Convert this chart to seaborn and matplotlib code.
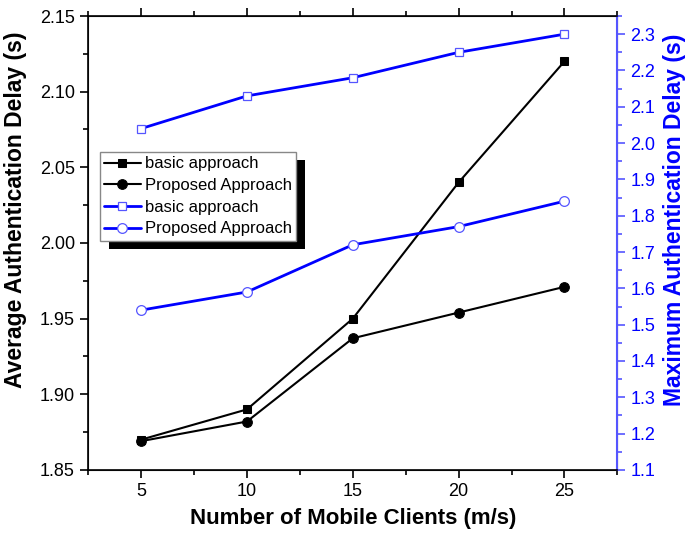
import matplotlib
matplotlib.use("Agg")
import matplotlib.pyplot as plt
import seaborn as sns
from matplotlib.patches import Rectangle
from matplotlib.ticker import MultipleLocator, FormatStrFormatter

clients = [5, 10, 15, 20, 25]
avg_basic = [1.87, 1.89, 1.95, 2.04, 2.12]
avg_proposed = [1.869, 1.882, 1.937, 1.954, 1.971]
max_basic = [2.04, 2.13, 2.18, 2.25, 2.30]
max_proposed = [1.54, 1.59, 1.72, 1.77, 1.84]

sns.set_style("ticks")
plt.rcParams["font.family"] = ["Liberation Sans", "DejaVu Sans"]
plt.rcParams["text.color"] = "black"
plt.rcParams["axes.labelcolor"] = "black"
plt.rcParams["xtick.color"] = "black"
plt.rcParams["ytick.color"] = "black"

blue = "#0000ff"
light_blue = "#5555ff"

fig = plt.figure(figsize=(6.89, 5.34), dpi=100)
ax = fig.add_axes([0.128, 0.12, 0.768, 0.85])
ax2 = ax.twinx()

sns.lineplot(x=clients, y=avg_basic, ax=ax, color="black", lw=1.5,
             marker="s", markersize=6, markeredgecolor="black",
             label="basic approach", legend=False)
sns.lineplot(x=clients, y=avg_proposed, ax=ax, color="black", lw=1.5,
             marker="o", markersize=7, markeredgecolor="black",
             label="Proposed Approach", legend=False)
sns.lineplot(x=clients, y=max_basic, ax=ax2, color=blue, lw=2.0,
             marker="s", markersize=6, markerfacecolor="white",
             markeredgecolor=light_blue, markeredgewidth=0.9,
             label="basic approach", legend=False)
sns.lineplot(x=clients, y=max_proposed, ax=ax2, color=blue, lw=2.0,
             marker="o", markersize=7, markerfacecolor="white",
             markeredgecolor=light_blue, markeredgewidth=0.9,
             label="Proposed Approach", legend=False)

ax.set_xlim(2.5, 27.5)
ax.set_ylim(1.85, 2.15)
ax2.set_ylim(1.1, 2.35)

ax.xaxis.set_major_locator(MultipleLocator(5))
ax.xaxis.set_minor_locator(MultipleLocator(2.5))
ax.yaxis.set_major_locator(MultipleLocator(0.05))
ax.yaxis.set_minor_locator(MultipleLocator(0.025))
ax.yaxis.set_major_formatter(FormatStrFormatter("%.2f"))
ax2.yaxis.set_major_locator(MultipleLocator(0.1))
ax2.yaxis.set_minor_locator(MultipleLocator(0.05))
ax2.yaxis.set_major_formatter(FormatStrFormatter("%.1f"))

for sp in ["left", "bottom", "top"]:
    ax2.spines[sp].set_color("black")
    ax2.spines[sp].set_linewidth(1.2)
ax2.spines["right"].set_color(light_blue)
ax2.spines["right"].set_linewidth(1.5)

ax.tick_params(axis="both", which="major", direction="out", length=6, width=1.2,
               labelsize=13, color="black", labelcolor="black")
ax.tick_params(axis="both", which="minor", direction="out", length=3.5, width=1.2)
ax.tick_params(axis="x", which="both", top=True)
ax2.tick_params(axis="y", which="major", direction="out", length=6, width=1.2,
                labelsize=13, color=light_blue, labelcolor=blue)
ax2.tick_params(axis="y", which="minor", direction="out", length=3.5, width=1.2,
                color=light_blue)

ax.set_xlabel("Number of Mobile Clients (m/s)", fontsize=16, fontweight="bold",
              color="black", labelpad=6)
ax.set_ylabel("Average Authentication Delay (s)", fontsize=16.5, fontweight="bold",
              color="black")
ax2.set_ylabel("Maximum Authentication Delay (s)", fontsize=16.5, fontweight="bold",
               color=blue)
ax.yaxis.set_label_coords(-0.115, 0.573)
ax2.yaxis.set_label_coords(1.086, 0.55)

handles = ax.get_lines()[:2] + ax2.get_lines()[:2]
labels = ["basic approach", "Proposed Approach", "basic approach", "Proposed Approach"]
leg = ax2.legend(handles, labels, loc="upper left", bbox_to_anchor=(0.022, 0.70),
                 fontsize=12, frameon=True, fancybox=False, framealpha=1,
                 edgecolor="#888888", borderpad=0.25, labelspacing=0.4,
                 handlelength=2.2, handletextpad=0.25, borderaxespad=0)
leg.get_frame().set_linewidth(1)
leg.set_zorder(10)

fig.canvas.draw()
bb = leg.get_window_extent()
shadow = Rectangle((bb.x0 + 9, bb.y0 - 8), bb.width, bb.height, transform=None,
                   facecolor="black", edgecolor="none", zorder=9, clip_on=False)
ax2.add_artist(shadow)

fig.savefig("out.png", dpi=100)
